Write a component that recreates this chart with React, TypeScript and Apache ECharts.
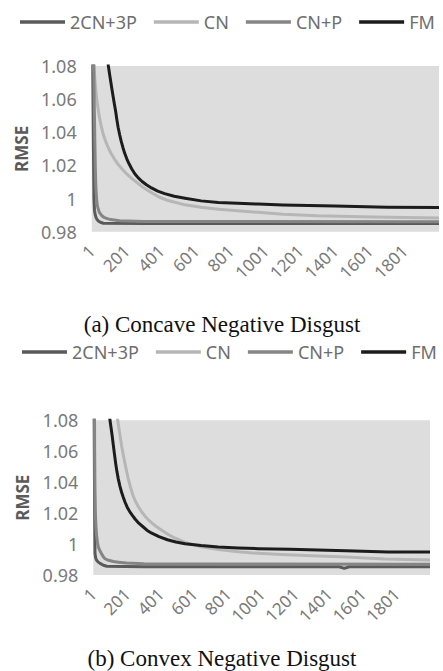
import React, { useEffect, useRef } from "react";
import * as echarts from "echarts";

// Iteration categories 1..2000
const iterations: string[] = Array.from({ length: 2000 }, (_, i) => String(i + 1));
const seriesNames = ["2CN+3P", "CN", "CN+P", "FM"];
const seriesColors = ["#5a5a5a", "#b6b6b6", "#858585", "#1c1c1c"];
const captions = ["(a) Concave Negative Disgust", "(b) Convex Negative Disgust"];

// (a) Concave — [iteration index, RMSE]
const a_2cn3p: [number, number][] = [[0, 1.5], [6, 1.08], [10, 1.03], [13, 1.0], [16, 0.993], [20, 0.9903], [25, 0.9885], [31, 0.9873], [38, 0.9865], [50, 0.9857], [67, 0.9851], [300, 0.985], [1999, 0.985]];
const a_cn: [number, number][] = [[0, 1.14], [8, 1.09], [14, 1.078], [19, 1.071], [24, 1.065], [29, 1.06], [35, 1.0555], [42, 1.0505], [55, 1.0435], [66, 1.039], [77, 1.0355], [92, 1.0315], [110, 1.0275], [130, 1.024], [153, 1.0205], [175, 1.0178], [200, 1.015], [225, 1.0126], [250, 1.0105], [295, 1.0068], [345, 1.0035], [390, 1.0008], [440, 0.9988], [537, 0.9962], [630, 0.9947], [729, 0.9936], [840, 0.9926], [959, 0.9917], [1100, 0.9906], [1300, 0.9896], [1620, 0.9889], [1999, 0.9883]];
const a_cnp: [number, number][] = [[0, 1.4], [12, 1.08], [15, 1.055], [18, 1.035], [21, 1.018], [24, 1.007], [28, 1.0], [32, 0.996], [38, 0.9935], [45, 0.9915], [57, 0.9898], [70, 0.9887], [90, 0.9879], [110, 0.9873], [160, 0.9866], [300, 0.9862], [1999, 0.986]];
const a_fm: [number, number][] = [[40, 1.2], [70, 1.11], [96, 1.08], [103, 1.075], [110, 1.0703], [117, 1.0657], [124, 1.0612], [131, 1.0568], [138, 1.0525], [145, 1.0475], [152, 1.043], [161, 1.0385], [170, 1.0345], [180, 1.0307], [190, 1.0273], [202, 1.024], [215, 1.021], [230, 1.018], [248, 1.015], [268, 1.0125], [290, 1.0103], [315, 1.0083], [344, 1.0064], [380, 1.0045], [420, 1.003], [475, 1.0014], [537, 1.0002], [630, 0.9986], [729, 0.9976], [840, 0.9971], [959, 0.9967], [1100, 0.9961], [1400, 0.9955], [1700, 0.9948], [1999, 0.9946]];

// (b) Convex — [iteration index, RMSE]
const b_2cn3p: [number, number][] = [[0, 1.5], [5, 1.08], [8, 1.02], [10, 0.994], [14, 0.991], [20, 0.9895], [30, 0.9883], [40, 0.9875], [60, 0.9863], [80, 0.9857], [300, 0.9853], [1460, 0.9853], [1490, 0.9843], [1520, 0.9853], [1999, 0.9853]];
const b_cn: [number, number][] = [[120, 1.1], [145, 1.08], [155, 1.0728], [168, 1.0636], [180, 1.0565], [194, 1.049], [208, 1.042], [222, 1.0362], [237, 1.031], [252, 1.0272], [267, 1.0242], [287, 1.0209], [307, 1.018], [327, 1.0157], [347, 1.0137], [370, 1.0117], [395, 1.0097], [420, 1.0079], [445, 1.0062], [490, 1.0036], [545, 1.0011], [640, 0.9982], [742, 0.9964], [860, 0.995], [980, 0.994], [1115, 0.9932], [1300, 0.9924], [1500, 0.9917], [1730, 0.9904], [1999, 0.9897]];
const b_cnp: [number, number][] = [[0, 1.3], [8, 1.06], [10, 1.035], [12, 1.021], [16, 1.011], [20, 1.005], [25, 1.001], [30, 0.998], [40, 0.9955], [50, 0.9935], [60, 0.9917], [70, 0.9905], [90, 0.9895], [120, 0.9887], [148, 0.9883], [198, 0.9877], [300, 0.9872], [1999, 0.987]];
const b_fm: [number, number][] = [[60, 1.15], [80, 1.105], [99, 1.08], [105, 1.0755], [112, 1.07], [119, 1.0638], [126, 1.0578], [133, 1.052], [140, 1.047], [148, 1.0423], [158, 1.0375], [168, 1.0335], [178, 1.0302], [188, 1.0272], [202, 1.0237], [217, 1.0208], [232, 1.0185], [248, 1.0162], [270, 1.0135], [295, 1.0112], [320, 1.0088], [347, 1.007], [390, 1.0048], [440, 1.0028], [490, 1.0013], [545, 1.0002], [640, 0.999], [742, 0.9981], [860, 0.9975], [980, 0.997], [1167, 0.9966], [1500, 0.9957], [1750, 0.9949], [1999, 0.9948]];

const yTicks = [0.98, 1.0, 1.02, 1.04, 1.06, 1.08];

export default function App() {
  const ref = useRef<HTMLDivElement>(null);
  useEffect(() => {
    if (!ref.current) return;
    const chart = echarts.init(ref.current, undefined, { renderer: "svg" });
    const grids = [
      { left: 91.7, top: 66, width: 347.3, height: 165.7 },
      { left: 93.3, top: 420.3, width: 336.7, height: 154.7 },
    ];
    const legendTops = [13, 343];
    const dataSets = [
      [a_2cn3p, a_cn, a_cnp, a_fm],
      [b_2cn3p, b_cn, b_cnp, b_fm],
    ];
    const font = "Noto Sans";
    const series: any[] = [];
    dataSets.forEach((sets, gi) => {
      sets.forEach((d, si) => {
        series.push({
          type: "line",
          name: seriesNames[si],
          xAxisIndex: gi,
          yAxisIndex: gi,
          data: d,
          showSymbol: false,
          symbol: "none",
          smooth: false,
          clip: true,
          lineStyle: { width: 3, color: seriesColors[si], join: "round" },
          itemStyle: { color: seriesColors[si] },
        });
      });
    });
    chart.setOption({
      animation: false,
      color: seriesColors,
      grid: grids.map((g) => ({
        ...g,
        show: true,
        backgroundColor: "#dddddd",
        borderWidth: 0,
        containLabel: false,
      })),
      legend: legendTops.map((t, i) => ({
        top: t,
        left: i === 0 ? 20 : 22,
        width: 423,
        padding: 0,
        icon: "rect",
        itemWidth: 45,
        itemHeight: 3.5,
        itemGap: 17,
        data: seriesNames,
        textStyle: { fontFamily: font, fontSize: 18, color: "#6e6e6e" },
      })),
      xAxis: grids.map((_, i) => ({
        type: "category",
        gridIndex: i,
        data: iterations,
        boundaryGap: false,
        axisLine: { show: false },
        axisTick: { show: false },
        splitLine: { show: false },
        axisLabel: {
          interval: 199,
          rotate: 45,
          margin: 16,
          fontFamily: font,
          fontSize: 17,
          color: "#7a7a7a",
        },
      })),
      yAxis: grids.map((_, i) => ({
        type: "value",
        gridIndex: i,
        min: yTicks[0],
        max: yTicks[yTicks.length - 1],
        interval: 0.02,
        name: "RMSE",
        nameLocation: "middle",
        nameRotate: 90,
        nameGap: 62,
        nameTextStyle: { fontFamily: font, fontSize: 17, fontWeight: "bold", color: "#5a5a5a" },
        axisLine: { show: false },
        axisTick: { show: false },
        splitLine: { show: false },
        axisLabel: {
          margin: 15,
          fontFamily: font,
          fontSize: 18,
          color: "#7a7a7a",
          formatter: (v: number) => String(parseFloat(v.toFixed(2))),
        },
      })),
      series,
      graphic: captions.map((c, i) => ({
        type: "text",
        x: 222,
        y: i === 0 ? 324 : 658,
        style: {
          text: c,
          fontFamily: "Liberation Serif",
          fontSize: 23,
          fill: "#111111",
          align: "center",
          verticalAlign: "middle",
        },
      })),
    });
    return () => chart.dispose();
  }, []);
  return (
    <div
      ref={ref}
      style={{ position: "absolute", left: 0, top: 0, width: 443, height: 671, background: "#ffffff" }}
    />
  );
}
